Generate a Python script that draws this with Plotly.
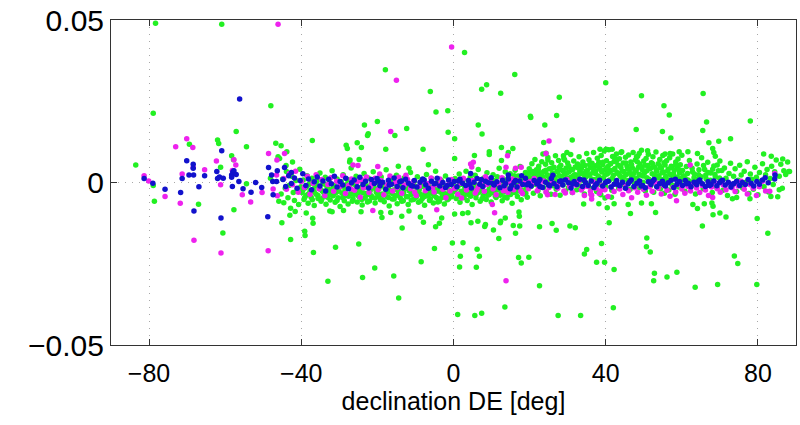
import plotly.graph_objects as go

# ---------------- data (declination [deg], value) ----------------
green_band = [
(-45.3,-0.0035),(-44.9,0.0011),(-44.6,-0.0062),(-44.2,-0.0018),(-43.9,0.0034),(-43.5,-0.0047),(-43.2,-0.0009),(-42.8,-0.0079),(-42.5,0.0019),(-42.1,-0.0031),
(-41.8,-0.0055),(-41.4,0.0006),(-41.1,-0.0024),(-40.7,-0.0068),(-40.4,0.0041),(-40.1,-0.0013),(-41.6,-0.0089),(-43.0,-0.0101),(-44.0,0.0052),(-42.3,0.0063),
(-39.8,-0.0031),(-39.5,0.0008),(-39.3,-0.0052),(-39.0,-0.0017),(-38.7,-0.0039),(-38.5,0.0021),(-38.2,-0.0064),(-38.0,-0.0006),(-37.7,-0.0028),(-37.4,-0.0045),
(-37.2,0.0013),(-36.9,-0.0022),(-36.6,-0.0071),(-36.4,-0.0011),(-36.1,-0.0036),(-35.9,0.0004),(-35.6,-0.0049),(-35.3,-0.0019),(-35.1,0.0029),(-34.8,-0.0058),
(-34.5,-0.0026),(-34.3,-0.0003),(-34.0,-0.0043),(-33.7,0.0016),(-33.5,-0.0067),(-33.2,-0.0014),(-33.0,-0.0035),(-32.7,0.0007),(-32.4,-0.0054),(-32.2,-0.0024),
(-31.9,0.0036),(-31.6,-0.0041),(-31.4,-0.0009),(-31.1,-0.0061),(-30.8,-0.0030),(-30.6,0.0011),(-30.3,-0.0047),(-30.1,-0.0016),(-29.8,-0.0074),(-29.5,0.0002),
(-29.3,-0.0033),(-29.0,0.0024),(-28.7,-0.0056),(-28.5,-0.0021),(-28.2,-0.0040),(-27.9,0.0009),(-27.7,-0.0066),(-27.4,-0.0012),(-27.2,-0.0037),(-26.9,0.0045),
(-26.6,-0.0027),(-26.4,-0.0050),(-26.1,-0.0005),(-25.8,-0.0034),(-25.6,0.0019),(-25.3,-0.0060),(-25.0,-0.0023),(-24.8,-0.0044),(-24.5,0.0006),(-24.3,-0.0015),
(-24.0,-0.0069),(-23.7,-0.0032),(-23.5,0.0028),(-23.2,-0.0048),(-22.9,-0.0010),(-22.7,-0.0038),(-22.4,0.0014),(-22.1,-0.0057),(-21.9,-0.0025),(-21.6,-0.0004),
(-21.4,-0.0046),(-21.1,0.0033),(-20.8,-0.0018),(-20.6,-0.0063),(-20.3,-0.0029),(-20.0,0.0001),(-19.8,-0.0042),(-19.5,-0.0013),(-19.2,-0.0053),(-19.0,0.0017),
(-18.7,-0.0035),(-18.4,-0.0008),(-18.2,-0.0059),(-17.9,-0.0021),(-17.7,0.0039),(-17.4,-0.0044),(-17.1,-0.0016),(-16.9,-0.0072),(-16.6,-0.0030),(-16.3,0.0010),
(-16.1,-0.0051),(-15.8,-0.0023),(-15.6,-0.0003),(-15.3,-0.0040),(-15.0,0.0022),(-14.8,-0.0065),(-14.5,-0.0027),(-14.2,-0.0011),(-14.0,-0.0047),(-13.7,0.0005),
(-13.4,-0.0033),(-13.2,-0.0056),(-12.9,0.0015),(-12.7,-0.0019),(-12.4,-0.0043),(-12.1,-0.0007),(-11.9,-0.0068),(-11.6,-0.0026),(-11.3,0.0031),(-11.1,-0.0037),
(-10.8,-0.0014),(-10.5,-0.0052),(-10.3,0.0003),(-10.0,-0.0029),(-9.8,-0.0045),(-9.5,0.0018),(-9.2,-0.0061),(-9.0,-0.0020),(-8.7,-0.0036),(-8.4,0.0008),
(-8.2,-0.0049),(-7.9,-0.0012),(-7.6,-0.0070),(-7.4,-0.0031),(-7.1,0.0025),(-6.9,-0.0041),(-6.6,-0.0006),(-6.3,-0.0055),(-6.1,-0.0022),(-5.8,0.0012),
(-5.5,-0.0034),(-5.3,-0.0063),(-5.0,-0.0016),(-4.7,0.0035),(-4.5,-0.0046),(-4.2,-0.0024),(-3.9,-0.0002),(-3.7,-0.0058),(-3.4,-0.0030),(-3.2,0.0007),
(-2.9,-0.0042),(-2.6,-0.0017),(-2.4,-0.0066),(-2.1,0.0020),(-1.8,-0.0035),(-1.6,-0.0010),(-1.3,-0.0050),(-1.0,0.0004),(-0.8,-0.0027),(-0.5,-0.0044),
(-39.6,-0.0024),(-39.1,-0.0046),(-38.6,-0.0013),(-38.1,-0.0035),(-37.6,-0.0002),(-37.1,-0.0053),(-36.6,-0.0029),(-36.1,-0.0008),(-35.6,-0.0040),(-35.1,-0.0019),
(-34.6,-0.0050),(-34.1,-0.0031),(-33.6,-0.0007),(-33.1,-0.0045),(-32.6,-0.0022),(-32.1,-0.0038),(-31.6,-0.0015),(-31.1,-0.0033),(-30.6,-0.0055),(-30.1,-0.0026),
(-29.6,-0.0012),(-29.1,-0.0047),(-28.6,-0.0030),(-28.1,-0.0006),(-27.6,-0.0042),(-27.1,-0.0020),(-26.6,-0.0058),(-26.1,-0.0036),(-25.6,-0.0011),(-25.1,-0.0039),
(-24.6,-0.0027),(-24.1,-0.0052),(-23.6,-0.0016),(-23.1,-0.0034),(-22.6,-0.0060),(-22.1,-0.0023),(-21.6,-0.0041),(-21.1,-0.0009),(-20.6,-0.0048),(-20.1,-0.0032),
(-19.6,-0.0019),(-19.1,-0.0037),(-18.6,-0.0053),(-18.1,-0.0014),(-17.6,-0.0028),(-17.1,-0.0046),(-16.6,-0.0005),(-16.1,-0.0034),(-15.6,-0.0051),(-15.1,-0.0021),
(-14.6,-0.0039),(-14.1,-0.0013),(-13.6,-0.0058),(-13.1,-0.0030),(-12.6,-0.0008),(-12.1,-0.0044),(-11.6,-0.0018),(-11.1,-0.0054),(-10.6,-0.0033),(-10.1,-0.0012),
(-9.6,-0.0038),(-9.1,-0.0025),(-8.6,-0.0057),(-8.1,-0.0004),(-7.6,-0.0043),(-7.1,-0.0021),(-6.6,-0.0036),(-6.1,-0.0050),(-5.6,-0.0015),(-5.1,-0.0040),
(-4.6,-0.0028),(-4.1,-0.0060),(-3.6,-0.0009),(-3.1,-0.0047),(-2.6,-0.0032),(-2.1,-0.0014),(-1.6,-0.0053),(-1.1,-0.0024),(-0.6,-0.0037),(-0.1,-0.0010),
(0.2,-0.0028),(0.4,0.0012),(0.7,-0.0049),(0.9,-0.0016),(1.2,-0.0036),(1.5,0.0026),(1.7,-0.0061),(2.0,-0.0005),(2.3,-0.0031),(2.5,0.0008),
(2.8,-0.0044),(3.0,-0.0020),(3.3,0.0035),(3.6,-0.0055),(3.8,-0.0011),(4.1,-0.0038),(4.4,0.0016),(4.6,-0.0026),(4.9,-0.0068),(5.1,-0.0002),
(5.4,-0.0033),(5.7,0.0022),(5.9,-0.0047),(6.2,-0.0014),(6.5,0.0040),(6.7,-0.0030),(7.0,-0.0058),(7.3,0.0005),(7.5,-0.0022),(7.8,-0.0041),
(8.0,0.0014),(8.3,-0.0007),(8.6,-0.0052),(8.8,0.0030),(9.1,-0.0025),(9.4,-0.0037),(9.6,0.0009),(9.9,-0.0060),(10.2,-0.0017),(10.4,0.0024),
(10.7,-0.0033),(10.9,-0.0004),(11.2,-0.0046),(11.5,0.0018),(11.7,-0.0021),(12.0,0.0044),(12.3,-0.0039),(12.5,-0.0010),(12.8,-0.0056),(13.1,0.0011),
(13.3,-0.0029),(13.6,0.0033),(13.8,-0.0015),(14.1,-0.0048),(14.4,0.0002),(14.6,-0.0036),(14.9,0.0027),(15.2,-0.0023),(15.4,-0.0064),(15.7,0.0007),
(16.0,-0.0031),(16.2,0.0038),(16.5,-0.0012),(16.8,-0.0043),(17.0,0.0020),(17.3,-0.0026),(17.5,0.0049),(17.8,-0.0053),(18.1,-0.0006),(18.3,0.0015),
(18.6,-0.0035),(18.9,0.0031),(19.1,-0.0018),(19.4,-0.0045),(19.7,0.0010),(19.9,0.0042),
(0.5,-0.0021),(1.0,-0.0040),(1.5,-0.0008),(2.0,-0.0027),(2.5,-0.0047),(3.0,-0.0013),(3.5,-0.0032),(4.0,0.0003),(4.5,-0.0042),(5.0,-0.0019),
(5.5,-0.0006),(6.0,-0.0036),(6.5,-0.0024),(7.0,-0.0011),(7.5,-0.0050),(8.0,-0.0029),(8.5,0.0001),(9.0,-0.0039),(9.5,-0.0016),(10.0,-0.0030),
(10.5,0.0006),(11.0,-0.0042),(11.5,-0.0023),(12.0,-0.0009),(12.5,-0.0034),(13.0,0.0004),(13.5,-0.0045),(14.0,-0.0020),(14.5,0.0013),(15.0,-0.0037),
(15.5,-0.0008),(16.0,0.0021),(16.5,-0.0028),(17.0,-0.0003),(17.5,0.0017),(18.0,-0.0024),(18.5,0.0008),(19.0,-0.0033),(19.5,0.0025),(20.0,-0.0011),
(20.2,0.0031),(20.4,-0.0012),(20.6,0.0058),(20.8,0.0004),(21.0,-0.0033),(21.2,0.0022),(21.4,0.0071),(21.6,-0.0006),(21.8,0.0039),(22.0,0.0013),
(22.2,-0.0025),(22.4,0.0050),(22.6,0.0027),(22.8,-0.0041),(23.0,0.0008),(23.2,0.0064),(23.4,0.0018),(23.6,-0.0015),(23.8,0.0035),(24.0,0.0002),
(24.2,0.0056),(24.4,-0.0029),(24.6,0.0024),(24.8,0.0077),(25.0,-0.0003),(25.2,0.0042),(25.4,0.0011),(25.6,-0.0036),(25.8,0.0061),(26.0,0.0029),
(26.2,-0.0010),(26.4,0.0047),(26.6,0.0016),(26.8,0.0082),(27.0,-0.0021),(27.2,0.0035),(27.4,0.0005),(27.6,0.0068),(27.8,0.0021),(28.0,-0.0039),
(28.2,0.0053),(28.4,0.0010),(28.6,0.0037),(28.8,-0.0008),(29.0,0.0074),(29.2,0.0026),(29.4,-0.0027),(29.6,0.0045),(29.8,0.0014),(30.0,0.0060),
(30.2,-0.0016),(30.4,0.0033),(30.6,0.0003),(30.8,0.0086),(31.0,0.0040),(31.2,-0.0031),(31.4,0.0019),(31.6,0.0066),(31.8,-0.0004),(32.0,0.0048),
(32.2,0.0023),(32.4,-0.0022),(32.6,0.0057),(32.8,0.0012),(33.0,0.0079),(33.2,0.0034),(33.4,-0.0011),(33.6,0.0043),(33.8,0.0007),(34.0,0.0063),
(34.2,0.0028),(34.4,-0.0035),(34.6,0.0052),(34.8,0.0017),(35.0,0.0089),(35.2,0.0038),(35.4,-0.0005),(35.6,0.0070),(35.8,0.0024),(36.0,0.0046),
(36.2,-0.0019),(36.4,0.0059),(36.6,0.0030),(36.8,0.0092),(37.0,0.0009),(37.2,0.0051),(37.4,0.0036),(37.6,-0.0028),(37.8,0.0075),(38.0,0.0020),
(38.2,0.0062),(38.4,0.0044),(38.6,-0.0007),(38.8,0.0083),(39.0,0.0032),(39.2,0.0055),(39.4,0.0014),(39.6,0.0097),(39.8,0.0039),(40.0,-0.0013),
(40.2,0.0067),(40.4,0.0026),(40.6,0.0049),(40.8,0.0101),(41.0,0.0008),(41.2,0.0058),(41.4,0.0037),(41.6,-0.0024),(41.8,0.0080),(42.0,0.0022),
(42.2,0.0065),(42.4,0.0043),(42.6,0.0002),(42.8,0.0088),(43.0,0.0031),(43.2,0.0054),(43.4,-0.0017),(43.6,0.0073),(43.8,0.0019),(44.0,0.0046),
(44.2,0.0095),(44.4,0.0011),(44.6,0.0060),(44.8,0.0034),(45.0,-0.0009),(45.2,0.0078),(45.4,0.0025),(45.6,0.0050),(45.8,0.0006),(46.0,0.0085),
(46.2,0.0040),(46.4,-0.0021),(46.6,0.0063),(46.8,0.0017),(47.0,0.0045),(47.2,0.0092),(47.4,0.0028),(47.6,-0.0004),(47.8,0.0069),(48.0,0.0036),
(48.2,0.0012),(48.4,0.0081),(48.6,0.0047),(48.8,-0.0015),(49.0,0.0057),(49.2,0.0023),(49.4,0.0099),(49.6,0.0039),(49.8,0.0001),(50.0,0.0066),
(50.2,0.0030),(50.4,-0.0026),(50.6,0.0074),(50.8,0.0015),(51.0,0.0052),(51.2,0.0087),(51.4,0.0008),(51.6,0.0042),(51.8,-0.0010),(52.0,0.0061),
(52.2,0.0027),(52.4,0.0079),(52.6,-0.0030),(52.8,0.0048),(53.0,0.0013),(53.2,0.0094),(53.4,0.0035),(53.6,-0.0005),(53.8,0.0058),(54.0,0.0021),
(54.2,0.0071),(54.4,-0.0019),(54.6,0.0044),(54.8,0.0009),(55.0,0.0083),(55.2,0.0032),(55.4,-0.0033),(55.6,0.0054),(55.8,0.0016),(56.0,0.0067),
(56.2,0.0003),(56.4,0.0041),(56.6,-0.0023),(56.8,0.0076),(57.0,0.0025),(57.2,0.0050),(57.4,-0.0008),(57.6,0.0088),(57.8,0.0018),(58.0,0.0037),
(58.2,-0.0036),(58.4,0.0063),(58.6,0.0011),(58.8,0.0046),(59.0,0.0072),(59.2,-0.0014),(59.4,0.0029),(59.6,0.0055),(59.8,0.0006),(60.0,0.0084),
(20.3,0.0015),(20.8,0.0034),(21.3,0.0007),(21.8,0.0026),(22.3,0.0041),(22.8,0.0018),(23.3,0.0030),(23.8,0.0009),(24.3,0.0038),(24.8,0.0021),
(25.3,0.0012),(25.8,0.0044),(26.3,0.0025),(26.8,0.0006),(27.3,0.0033),(27.8,0.0047),(28.3,0.0019),(28.8,0.0036),(29.3,0.0010),(29.8,0.0029),
(30.3,0.0050),(30.8,0.0016),(31.3,0.0039),(31.8,0.0024),(32.3,0.0008),(32.8,0.0045),(33.3,0.0027),(33.8,0.0052),(34.3,0.0013),(34.8,0.0035),
(35.3,0.0022),(35.8,0.0056),(36.3,0.0011),(36.8,0.0041),(37.3,0.0028),(37.8,0.0053),(38.3,0.0016),(38.8,0.0037),(39.3,0.0062),(39.8,0.0023),
(40.3,0.0045),(40.8,0.0031),(41.3,0.0058),(41.8,0.0014),(42.3,0.0040),(42.8,0.0066),(43.3,0.0027),(43.8,0.0051),(44.3,0.0035),(44.8,0.0018),
(45.3,0.0060),(45.8,0.0042),(46.3,0.0029),(46.8,0.0055),(47.3,0.0013),(47.8,0.0038),(48.3,0.0064),(48.8,0.0025),(49.3,0.0047),(49.8,0.0020),
(50.3,0.0053),(50.8,0.0036),(51.3,0.0010),(51.8,0.0044),(52.3,0.0058),(52.8,0.0022),(53.3,0.0039),(53.8,0.0014),(54.3,0.0049),(54.8,0.0030),
(55.3,0.0061),(55.8,0.0019),(56.3,0.0035),(56.8,0.0008),(57.3,0.0046),(57.8,0.0026),(58.3,0.0053),(58.8,0.0017),(59.3,0.0039),(59.8,0.0012),
(60.4,0.0021),(60.8,-0.0027),(61.2,0.0049),(61.6,0.0008),(62.0,0.0068),(62.4,-0.0012),(62.8,0.0033),(63.2,0.0015),(63.6,-0.0035),(64.0,0.0057),
(64.4,0.0024),(64.8,0.0002),(65.2,0.0076),(65.6,-0.0019),(66.0,0.0040),(66.4,0.0011),(66.8,0.0062),(67.2,-0.0006),(67.6,0.0029),(68.0,-0.0031),
(68.4,0.0051),(68.8,0.0017),(69.2,-0.0015),(69.6,0.0036),(70.0,0.0066),(70.4,0.0004),(70.8,-0.0024),(71.2,0.0045),(71.6,0.0013),(72.0,-0.0040),
(72.4,0.0028),(72.8,0.0059),(73.2,-0.0009),(73.6,0.0019),(74.0,0.0042),(74.4,-0.0028),(74.8,0.0007),(75.2,0.0053),(75.6,0.0023),(76.0,-0.0017),
(76.4,0.0035),(76.8,0.0001),(77.2,0.0064),(77.6,-0.0034),(78.0,0.0026),(78.4,0.0010),(78.8,-0.0021),(79.2,0.0047),(79.6,0.0016),(80.0,-0.0038),
(80.4,0.0031),(80.8,0.0005),(81.2,0.0058),(81.6,-0.0013),(82.0,0.0024),(82.4,0.0040),(82.8,-0.0029),(83.2,0.0012),(83.6,0.0050),(84.0,-0.0006),
(84.4,0.0033),(84.8,0.0069),(85.2,-0.0044),(85.6,0.0019),(86.0,0.0056),(86.4,-0.0018),(86.8,0.0036),(87.3,0.0025),(87.8,0.0063),(88.3,0.0034),
(60.2,0.0037),(60.9,0.0012),(61.5,0.0028),(62.1,0.0003),(62.7,0.0044),(63.3,0.0026),(63.9,0.0009),(64.5,0.0039),(65.1,0.0018),(65.7,0.0052),
(66.3,0.0023),(66.9,0.0031),(67.5,0.0007),(68.1,0.0041),(68.7,0.0025),(69.3,0.0054),(69.9,0.0014),(70.5,0.0037),
]

green_outliers = [
(-78.3,0.0490),(-60.9,0.0487),(-78.9,0.0213),(-48.0,0.0236),(-57.1,0.0157),(-37.1,0.0129),(-46.7,0.0121),(-45.3,0.0113),(-43.8,0.0095),(-54.4,0.0110),
(-69.4,0.0118),(-62.0,0.0131),(-61.7,0.0120),(-83.5,0.0054),(-58.3,0.0082),(-57.8,0.0070),(-61.2,0.0047),(-45.7,0.0074),(-46.1,0.0079),
(-48.1,0.0013),(-78.9,-0.0009),(-78.6,-0.0058),(-67.0,-0.0067),(-60.6,-0.0155),(-57.7,-0.0084),(-54.4,-0.0004),(-45.9,-0.0058),
(-45.1,-0.0124),(-42.8,-0.0175),(-39.1,-0.0150),(-39.0,-0.0163),(-36.8,-0.0215),(-31.0,-0.0199),(-33.0,-0.0304),(-36.9,-0.0125),(-37.0,-0.0110),
(-38.7,-0.0094),(-32.5,-0.0088),(-31.9,-0.0090),
(2.9,0.0400),(-17.9,0.0347),(16.1,0.0332),(-6.1,0.0280),(8.7,0.0301),(7.4,0.0287),(12.4,0.0275),(27.8,0.0262),(-4.6,0.0217),(-1.5,0.0221),
(20.2,0.0204),(20.3,0.0200),(27.1,0.0206),(-20.0,0.0188),(-23.4,0.0177),(-22.4,0.0150),(-22.6,0.0145),(-12.3,0.0166),(-15.4,0.0145),(-1.4,0.0155),
(0.3,0.0135),(6.5,0.0177),(7.5,0.0149),(24.0,0.0177),(23.7,0.0123),(31.2,0.0131),(-25.3,0.0122),(-24.2,0.0108),(-28.2,0.0115),(-27.9,0.0105),
(-17.8,0.0102),(-8.0,0.0102),(0.3,0.0074),(9.4,0.0095),(9.4,0.0086),(12.6,0.0108),(15.6,0.0105),(14.4,0.0092),(12.6,0.0068),(5.5,0.0083),
(23.5,0.0088),(24.3,0.0090),(24.8,0.0069),(29.8,0.0092),(28.9,0.0082),(29.2,0.0069),(-27.2,0.0069),(-24.8,0.0071),(-27.3,0.0063),
(-14.5,0.0050),(-11.7,0.0044),(-6.6,0.0055),
(40.0,0.0307),(49.4,0.0267),(65.6,0.0274),(55.3,0.0236),(56.7,0.0208),(48.0,0.0163),(54.9,0.0157),(57.1,0.0137),(66.5,0.0186),(65.5,0.0160),
(78.0,0.0189),(67.1,0.0122),(69.7,0.0127),(72.8,0.0135),(38.5,0.0102),(40.1,0.0102),(41.7,0.0102),(81.5,0.0088),(83.5,0.0081),(86.5,0.0072),
(88.1,0.0034),(68.1,0.0105),(68.4,0.0092),(68.8,0.0081),(51.0,0.0098),(48.8,0.0089),(48.1,0.0079),(59.3,0.0095),(61.6,0.0095),(64.1,0.0089),
(56.9,0.0089),(55.6,0.0088),(44.0,0.0092),(42.5,0.0074),
(-24.9,-0.0189),(-23.9,-0.0292),(-20.7,-0.0263),(-15.7,-0.0288),(-14.4,-0.0355),(-13.5,-0.0140),(-8.5,-0.0244),(-5.0,-0.0203),(-4.7,-0.0136),(-3.7,-0.0125),
(-0.3,-0.0186),(2.5,-0.0185),(1.8,-0.0227),(1.6,-0.0260),(1.1,-0.0406),(5.6,-0.0409),(7.4,-0.0402),(6.2,-0.0205),(6.8,-0.0227),(6.0,-0.0261),
(13.5,-0.0383),(11.9,-0.0172),(16.3,-0.0156),(17.1,-0.0231),(17.8,-0.0248),(19.8,-0.0230),(22.6,-0.0318),(27.5,-0.0409),(33.4,-0.0409),(34.4,-0.0220),
(35.0,-0.0206),(27.0,-0.0147),(25.9,-0.0126),(22.6,-0.0136),(17.4,-0.0134),(30.6,-0.0134),(32.0,-0.0139),(10.5,-0.0146),(8.4,-0.0129),(8.2,-0.0135),
(6.4,-0.0119),(4.6,-0.0124),(12.4,-0.0119),(13.6,-0.0109),(12.3,-0.0124),(15.7,-0.0132),(17.2,-0.0091),(17.3,-0.0104),
(-28.9,-0.0086),(-24.3,-0.0090),(-19.1,-0.0092),(-16.5,-0.0092),(-11.7,-0.0088),(-13.6,-0.0104),(-8.7,-0.0106),(-7.9,-0.0122),(-3.1,-0.0109),
(0.3,-0.0097),(2.4,-0.0095),(3.8,-0.0093),(-18.8,-0.0108),
(37.6,-0.0245),(39.7,-0.0245),(38.9,-0.0188),(42.2,-0.0268),(42.0,-0.0385),(40.9,-0.0124),(40.4,-0.0078),(46.5,-0.0095),
(53.1,-0.0092),(50.8,-0.0171),(50.7,-0.0198),(51.7,-0.0214),(52.8,-0.0279),(52.6,-0.0302),(56.1,-0.0291),(58.7,-0.0276),(63.5,-0.0322),(69.4,-0.0314),
(65.4,-0.0134),(68.2,-0.0099),(70.0,-0.0094),(71.6,-0.0106),(73.8,-0.0226),(74.7,-0.0249),(79.7,-0.0314),(79.8,-0.0111),(82.6,-0.0156),
(83.4,-0.0043),(85.6,-0.0022),(62.9,-0.0068),(64.1,-0.0080),(65.9,-0.0065),(67.9,-0.0063),(68.2,-0.0073),(73.3,-0.0050),(74.4,-0.0046),(77.9,-0.0050),
(34.2,-0.0066),(38.2,-0.0065),(38.7,-0.0038),(39.8,-0.0048),(41.5,-0.0045),(45.9,-0.0068),(49.4,-0.0063),(52.0,-0.0065),(42.2,-0.0065),
]

magenta_band = [
(-44.6,0.0012),(-43.9,-0.0021),(-43.1,0.0028),(-42.3,-0.0007),(-41.5,0.0035),(-40.8,-0.0030),(-40.0,0.0003),(-39.2,-0.0015),(-38.4,0.0019),(-37.7,-0.0036),
(-36.9,-0.0002),(-36.1,0.0024),(-35.3,-0.0019),(-34.6,0.0009),(-33.8,-0.0041),(-33.0,-0.0006),(-32.2,0.0015),(-31.5,-0.0027),(-30.7,0.0004),(-29.9,-0.0013),
(-29.1,0.0021),(-28.4,-0.0034),(-27.6,-0.0009),(-26.8,0.0011),(-26.0,-0.0024),(-25.3,0.0002),(-24.5,-0.0045),(-23.7,-0.0016),(-22.9,0.0017),(-22.2,-0.0031),
(-21.4,-0.0004),(-20.6,0.0013),(-19.8,-0.0022),(-19.1,0.0006),(-18.3,-0.0038),(-17.5,-0.0010),(-16.7,0.0020),(-16.0,-0.0026),(-15.2,0.0001),(-14.4,0.0016),
(-13.6,-0.0033),(-12.9,-0.0008),(-12.1,0.0010),(-11.3,-0.0019),(-10.5,0.0004),(-9.8,-0.0040),(-9.0,-0.0012),(-8.2,0.0008),(-7.4,-0.0025),(-6.7,-0.0003),
(-5.9,0.0014),(-5.1,-0.0029),(-4.3,-0.0007),(-3.6,0.0011),(-2.8,-0.0021),(-2.0,-0.0047),(-1.2,-0.0005),(-0.5,0.0009),(0.3,-0.0018),(1.1,-0.0036),
(1.9,-0.0002),(2.6,0.0013),(3.4,-0.0023),(4.2,-0.0009),(5.0,0.0006),(5.7,-0.0032),(6.5,-0.0014),(7.3,0.0003),(8.1,-0.0027),(8.8,-0.0006),
(9.6,0.0010),(10.4,-0.0020),(11.2,-0.0038),(11.9,-0.0004),(12.7,0.0015),(13.5,-0.0016),(14.3,-0.0030),(15.0,-0.0001),(15.8,-0.0022),(16.6,0.0007),
(17.4,-0.0011),(18.1,-0.0034),(18.9,0.0002),(19.7,-0.0019),(20.5,-0.0007),(21.2,0.0012),(22.0,-0.0025),(22.8,-0.0010),(23.6,0.0005),(24.3,-0.0029),
(25.1,-0.0015),(25.9,0.0001),(26.7,-0.0037),(27.4,-0.0018),(28.2,-0.0004),(29.0,-0.0026),(29.8,0.0009),(30.5,-0.0013),(31.3,-0.0031),(32.1,-0.0008),
(32.9,0.0004),(33.6,-0.0023),(34.4,-0.0040),(35.2,-0.0012),(36.0,-0.0027),(36.7,0.0002),(37.5,-0.0018),(38.3,-0.0034),(39.1,-0.0009),(39.8,-0.0022),
(40.6,-0.0043),(41.4,-0.0014),(42.2,-0.0028),(42.9,-0.0005),(43.7,-0.0020),(44.5,-0.0037),(45.3,-0.0011),(46.0,-0.0025),(46.8,-0.0047),(47.6,-0.0016),
(48.4,-0.0030),(49.1,-0.0008),(49.9,-0.0021),(50.7,-0.0039),(51.5,-0.0013),(52.2,-0.0027),(53.0,0.0001),(53.8,-0.0018),(54.6,-0.0035),(55.3,-0.0010),
(56.1,-0.0024),(56.9,-0.0042),(57.7,-0.0015),(58.4,-0.0029),(59.2,-0.0006),(60.0,-0.0020),(60.8,-0.0033),(61.6,-0.0012),(62.3,-0.0026),(63.1,-0.0003),
(63.9,-0.0017),(64.7,-0.0031),(65.4,-0.0009),(66.2,-0.0023),(67.0,-0.0040),(67.8,-0.0014),(68.5,0.0002),(69.3,-0.0019),(70.1,-0.0030),(70.9,-0.0008),
(71.6,-0.0022),(72.4,-0.0002),(73.2,-0.0016),(74.0,-0.0028),(74.8,-0.0011),(75.6,0.0004),(76.4,-0.0021),(77.2,-0.0035),(78.0,-0.0007),(78.8,-0.0018),
(79.6,-0.0040),(80.4,-0.0013),(81.2,0.0004),(82.0,-0.0026),
(-29.5,-0.0005),(-27.0,-0.0020),(-24.1,0.0008),(-21.8,-0.0012),(-19.4,0.0026),(-17.1,-0.0002),(-14.8,-0.0015),(-12.5,0.0022),(-10.2,-0.0030),(-7.8,0.0002),
(-5.5,-0.0016),(-3.2,-0.0001),(-0.9,-0.0026),(1.5,0.0004),(3.8,-0.0010),(6.1,-0.0024),(8.4,0.0018),(10.7,-0.0009),(13.1,-0.0025),(15.4,0.0011),
(17.7,-0.0026),(20.1,0.0003),(22.4,-0.0017),(24.7,-0.0038),(27.0,-0.0008),(29.4,-0.0032),(31.7,0.0000),(34.0,-0.0015),(36.3,-0.0039),(38.7,-0.0025),
]

magenta_outliers = [
(-46.1,0.0487),(-0.5,0.0417),(-15.0,0.0315),(-16.5,0.0157),(25.1,0.0128),(14.2,0.0082),(5.2,0.0062),(4.8,0.0048),
(-70.1,0.0135),(-73.0,0.0110),(-68.5,0.0108),(-57.2,0.0054),(-62.3,0.0066),(-65.4,0.0039),(-68.4,0.0046),(-71.3,0.0026),(-81.3,0.0021),(-80.1,0.0005),
(-58.1,0.0037),(-48.6,0.0089),(-44.4,0.0089),(-57.7,0.0070),(-46.4,0.0069),(-46.5,0.0023),(-61.2,-0.0007),
(-75.8,-0.0043),(-71.8,-0.0064),(-68.2,-0.0178),(-61.1,-0.0217),(-55.5,-0.0038),(-53.3,-0.0060),(-50.3,-0.0031),(-48.7,-0.0210),(-47.4,-0.0020),(-46.3,-0.0041),
(13.8,-0.0302),(10.8,-0.0093),(10.2,-0.0068),(58.6,-0.0056),(62.2,0.0054),(84.4,0.0028),(83.1,-0.0027),
(-21.2,-0.0086),(-4.4,-0.0084),(-26.4,0.0054),(-25.1,0.0052),(-19.9,0.0049),(13.8,0.0047),(17.8,0.0047),(16.3,0.0044),
(36.3,-0.0051),(36.1,-0.0036),(68.1,-0.0046),(24.3,0.0089),(4.5,0.0057),(2.1,-0.0048),
]

blue_band = [
(-44.8,0.0009),(-44.1,-0.0012),(-43.3,0.0021),(-42.6,-0.0003),(-41.8,0.0014),(-41.1,-0.0018),(-40.3,0.0006),(-39.6,0.0027),(-38.8,-0.0009),(-38.1,0.0011),
(-37.3,-0.0022),(-36.6,0.0002),(-35.8,0.0017),(-35.1,-0.0011),(-34.3,0.0005),(-33.6,-0.0026),(-32.8,0.0010),(-32.1,-0.0004),(-31.3,0.0019),(-30.6,-0.0014),
(-29.8,0.0003),(-29.1,-0.0008),(-28.3,0.0013),(-27.6,-0.0019),(-26.8,-0.0001),(-26.1,0.0008),(-25.3,-0.0013),(-24.6,0.0016),(-23.8,-0.0006),(-23.1,0.0004),
(-22.3,-0.0017),(-21.6,0.0009),(-20.8,-0.0003),(-20.1,0.0012),(-19.3,-0.0010),(-18.6,0.0001),(-17.8,-0.0021),(-17.1,0.0007),(-16.3,-0.0005),(-15.6,0.0014),
(-14.8,-0.0012),(-14.1,0.0002),(-13.3,-0.0016),(-12.6,0.0010),(-11.8,-0.0002),(-11.1,-0.0009),(-10.3,0.0006),(-9.6,-0.0014),(-8.8,0.0001),(-8.1,0.0011),
(-7.3,-0.0007),(-6.6,-0.0018),(-5.8,0.0004),(-5.1,-0.0004),(-4.3,0.0013),(-3.6,-0.0011),(-2.8,0.0000),(-2.1,-0.0015),(-1.3,0.0008),(-0.6,-0.0006),
(0.2,0.0003),(0.9,-0.0013),(1.7,0.0010),(2.4,-0.0002),(3.2,-0.0009),(3.9,0.0006),(4.7,-0.0017),(5.4,0.0001),(6.2,0.0012),(6.9,-0.0005),
(7.7,-0.0012),(8.4,0.0004),(9.2,-0.0001),(9.9,0.0015),(10.7,-0.0008),(11.4,0.0002),(12.2,-0.0016),(12.9,0.0007),(13.7,-0.0003),(14.4,0.0011),
(15.2,-0.0010),(15.9,0.0000),(16.7,-0.0014),(17.4,0.0005),(18.2,-0.0006),(18.9,0.0013),(19.7,-0.0002),(20.4,-0.0011),(21.2,0.0006),(21.9,-0.0004),
(22.7,0.0009),(23.4,-0.0015),(24.2,0.0001),(24.9,-0.0007),(25.7,0.0012),(26.4,-0.0003),(27.2,-0.0013),(27.9,0.0004),(28.7,-0.0008),(29.4,0.0008),
(30.2,-0.0001),(30.9,-0.0017),(31.7,0.0003),(32.4,-0.0006),(33.2,0.0010),(33.9,-0.0012),(34.7,0.0000),(35.4,-0.0009),(36.2,0.0005),(36.9,-0.0015),
(37.7,-0.0003),(38.4,0.0007),(39.2,-0.0011),(39.9,-0.0001),(40.7,0.0004),(41.4,-0.0014),(42.2,-0.0005),(42.9,0.0006),(43.7,-0.0010),(44.4,0.0001),
(45.2,-0.0018),(45.9,-0.0004),(46.7,0.0008),(47.4,-0.0012),(48.2,-0.0002),(48.9,0.0005),(49.7,-0.0009),(50.4,-0.0016),(51.2,0.0002),(51.9,-0.0006),
(52.7,0.0009),(53.4,-0.0013),(54.2,-0.0003),(54.9,0.0004),(55.7,-0.0011),(56.4,-0.0001),(57.2,0.0007),(57.9,-0.0015),(58.7,-0.0005),(59.4,0.0003),
(60.2,-0.0009),(60.9,0.0006),(61.7,-0.0002),(62.4,-0.0013),(63.2,0.0001),(63.9,-0.0007),(64.7,0.0008),(65.4,-0.0004),(66.2,-0.0012),(66.9,0.0002),
(67.7,-0.0006),(68.4,0.0005),(69.2,-0.0010),(69.9,-0.0001),(70.7,0.0007),(71.4,-0.0008),(72.2,0.0001),(72.9,-0.0014),(73.7,-0.0003),(74.4,0.0004),
(75.2,-0.0009),(75.9,0.0000),(76.7,-0.0006),(77.4,0.0009),(78.2,-0.0002),(78.9,-0.0011),(79.7,0.0003),(80.4,-0.0005),(81.2,0.0008),(81.9,0.0015),
(82.7,-0.0001),
(-19.7,0.0004),(-16.9,-0.0008),(-13.7,0.0005),(-10.7,-0.0011),(-7.7,0.0008),(-4.7,-0.0002),(-1.7,-0.0009),(1.3,0.0005),(4.3,-0.0006),(7.3,0.0009),
(10.3,-0.0003),(13.3,-0.0010),(16.3,0.0006),(19.3,-0.0007),(22.3,0.0002),(25.3,-0.0010),(28.3,0.0005),(31.3,-0.0004),(34.3,0.0008),(37.3,-0.0008),
(40.3,0.0003),(43.3,-0.0007),(46.3,0.0002),(49.3,-0.0011),(52.3,0.0004),(55.3,-0.0006),(58.3,0.0010),(61.3,-0.0004),(64.3,0.0003),(67.3,-0.0009),
(70.3,0.0004),(73.3,-0.0005),
]

blue_outliers = [
(-56.2,0.0257),(-60.9,0.0098),(-70.1,0.0067),(-68.4,0.0056),(-68.4,0.0044),(-62.2,0.0034),(-65.4,0.0021),(-69.5,0.0023),(-68.3,0.0023),(-71.3,0.0012),
(-81.3,0.0012),(-58.3,0.0023),(-58.0,0.0032),(-48.6,0.0046),(-79.0,-0.0002),(-75.8,-0.0021),(-71.7,-0.0031),(-66.9,-0.0013),(-68.2,-0.0088),(-61.1,-0.0109),
(-57.7,0.0036),(-57.1,0.0025),(-58.3,0.0016),(-56.4,0.0003),(-55.3,-0.0019),(-53.2,-0.0030),(-52.0,0.0000),(-50.4,-0.0015),(-48.8,-0.0105),(-47.8,0.0023),
(-47.5,0.0003),(-46.5,0.0003),(-46.3,0.0036),(-47.4,-0.0038),(-58.1,-0.0012),(-61.5,0.0017),(-62.0,0.0012),(-60.5,0.0013),
(-44.4,0.0046),(-42.6,0.0031),(4.5,0.0028),(14.4,0.0023),(17.9,0.0021),(26.1,0.0022),(14.9,-0.0019),(22.7,-0.0012),
(84.4,0.0011),(84.5,0.0023),
]

x_ticks = [-80, -40, 0, 40, 80]
x_tick_text = ["\u221280", "\u221240", "0", "40", "80"]
y_ticks = [-0.05, 0, 0.05]
y_tick_text = ["\u22120.05", "0", "0.05"]

colors = {"green": "#22f022", "magenta": "#ee22ee", "blue": "#1212cc"}

fig = go.Figure()
for name, pts in [("green", green_band + green_outliers),
                  ("magenta", magenta_band + magenta_outliers),
                  ("blue", blue_band + blue_outliers)]:
    fig.add_trace(go.Scatter(
        x=[p[0] for p in pts], y=[p[1] for p in pts], mode="markers",
        marker=dict(size=5.5, color=colors[name], line=dict(width=0)),
        showlegend=False, cliponaxis=True))

axis_common = dict(showline=True, linecolor="#333333", linewidth=1, mirror="allticks",
                   ticks="inside", ticklen=6, tickcolor="#333333",
                   showgrid=True, gridcolor="#a8a8a8", griddash="1px,6px", gridwidth=1,
                   zeroline=False)

fig.update_layout(
    width=800, height=425, margin=dict(l=111, r=3, t=17, b=80),
    paper_bgcolor="white", plot_bgcolor="white",
    font=dict(family="Liberation Sans, Arial, sans-serif", color="black"),
    xaxis=dict(range=[-90, 90], tickvals=x_ticks, ticktext=x_tick_text,
               tickfont=dict(size=25), ticklabelstandoff=6,
               title=dict(text="declination DE [deg]", font=dict(size=25), standoff=3),
               **axis_common),
    yaxis=dict(range=[-0.05, 0.05], tickvals=y_ticks, ticktext=y_tick_text,
               tickfont=dict(size=30), **axis_common),
)

fig.write_html("out.html")
